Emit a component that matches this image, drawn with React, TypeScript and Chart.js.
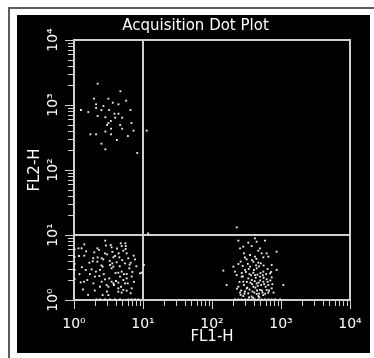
import React, { useEffect, useRef } from 'react';
import { Chart, registerables } from 'chart.js';

Chart.register(...registerables);

const chartTitle = 'Acquisition Dot Plot';
const xAxisTitle = 'FL1-H';
const yAxisTitle = 'FL2-H';
const decadeValues = [1, 10, 100, 1000, 10000];
const decadeLabels = ['10⁰', '10¹', '10²', '10³', '10⁴'];
const significands = [1, 2, 3, 4, 5, 6, 7, 8, 9];
const quadrantX = 10;
const quadrantY = 10;

// [FL1-H, FL2-H]
const upperLeft: [number, number][] = [
  [2.2, 2130], [4.7, 1625], [1.95, 1250], [3.15, 1250], [5.7, 1165], [3.65, 1085], [2.09, 1025],
  [2.67, 965], [4.41, 1025], [2.09, 900], [2.5, 837], [1.26, 837], [1.61, 780], [3.23, 837],
  [6.6, 837], [3.86, 735], [4.41, 735], [2.2, 678], [2.85, 647], [3.95, 638], [4.99, 638],
  [3.42, 567], [3.15, 528], [6.81, 528], [3.02, 492], [4.67, 492], [4.99, 432], [3.45, 432],
  [7.29, 403], [2.85, 391], [11.3, 403], [1.73, 354], [2.09, 354], [3.45, 354], [6.04, 333],
  [4.18, 290], [2.5, 254], [2.85, 208], [8.25, 183],
];

const lowerLeft: [number, number][] = [
  [1.41, 7.18], [2.84, 8.18], [3.4, 7.02], [3.51, 6.46], [4.75, 7.45], [5.55, 7.45], [5.61, 6.77], [4.91, 6.77],
  [1.16, 6.24], [1.29, 6.24], [1.97, 5.41], [2.18, 6.24], [2.81, 5.22], [3.01, 5.04], [4.44, 5.22], [5.19, 5.74], [5.8, 5.22],
  [1.41, 4.81], [1.18, 4.75], [2.2, 4.53], [2.52, 4.38], [2.66, 4.22], [3.72, 4.53], [3.93, 4.75], [4.54, 4.53],
  [6.13, 4.38], [7.33, 4.81], [7.66, 4.22],
  [1.67, 3.75], [1.87, 3.94], [2.18, 3.89], [3.33, 3.45], [3.59, 3.66], [4.15, 3.8], [5.48, 3.66], [6.62, 3.75], [10.3, 3.45],
  [1.48, 2.9], [1.8, 2.96], [2.08, 2.73], [2.38, 2.9], [2.6, 3.26], [3.51, 3.07], [3.72, 3.26], [4.39, 2.63],
  [4.91, 2.73], [5.8, 2.51], [6.34, 3.07], [9.05, 2.57], [9.57, 2.63],
  [1.56, 2.03], [2.01, 2.29], [2.33, 2.34], [2.81, 2.08], [3.25, 2.15], [3.51, 1.91], [4.06, 1.96], [4.64, 2.29],
  [5.19, 2.03], [5.8, 2.15], [6.85, 2.29],
  [1.25, 1.87], [1.4, 1.91], [1.91, 1.8], [2.52, 1.91], [2.97, 1.7], [3.72, 1.8], [4.39, 1.85], [5.48, 1.8],
  [2.38, 1.6], [3.15, 1.6], [4.39, 1.51], [5.19, 1.43], [5.8, 1.39], [6.85, 1.51],
  [2.6, 1.19], [3.15, 1.19], [4.39, 1.34], [4.91, 1.3], [6.62, 1.27],
  [1.3, 3.2], [1.5, 5.6], [1.7, 2.5], [1.9, 4.4], [2.0, 1.4], [2.3, 5.9], [2.5, 3.4], [2.7, 2.5],
  [2.9, 6.9], [3.0, 1.35], [3.3, 4.0], [3.6, 5.5], [3.8, 1.7], [4.0, 2.6], [4.2, 6.2], [4.6, 3.3],
  [4.8, 1.6], [5.0, 4.1], [5.3, 2.5], [5.6, 6.1], [6.0, 1.8], [6.4, 3.5], [7.0, 2.7], [7.4, 1.9],
  [8.0, 3.3], [1.2, 2.5], [1.35, 1.45], [1.6, 1.2],
  [2.13, 1.02], [2.38, 1.02], [2.81, 1.02], [3.33, 1.02], [3.93, 1.02], [4.64, 1.02], [6.13, 1.02],
  [6.85, 1.02], [7.66, 1.02], [8.55, 1.02],
  [1.02, 6.0], [1.02, 4.6], [1.02, 3.6], [1.02, 2.9], [1.02, 2.1],
  [11.9, 10.6],
];

const lowerRight: [number, number][] = [
  [228, 13.1], [241, 8.18], [336, 7.62], [420, 8.89], [444, 7.89], [586, 8.18], [284, 6.62], [255, 6.24],
  [376, 6.77], [496, 6.24], [469, 5.74], [525, 5.22], [620, 5.22], [865, 5.54], [290, 5.22], [356, 4.92],
  [420, 4.64], [555, 4.53], [655, 4.64], [318, 4.22], [397, 3.89], [469, 3.75], [510, 3.66], [733, 3.45],
  [241, 3.58], [204, 3.26], [278, 3.34], [356, 3.26], [444, 3.07], [865, 2.9], [146, 2.83], [215, 2.73],
  [301, 2.9], [397, 2.63], [555, 2.73], [693, 2.57], [228, 2.42], [269, 2.29], [336, 2.15], [420, 2.42],
  [496, 2.29], [620, 2.08], [733, 2.23], [284, 1.91], [376, 2.03], [444, 1.8], [555, 1.91], [655, 1.7],
  [163, 1.7], [1081, 1.7], [241, 1.6], [318, 1.51], [397, 1.6], [496, 1.43], [620, 1.43], [733, 1.51],
  [255, 1.3], [336, 1.27], [444, 1.24], [555, 1.19], [655, 1.3], [284, 1.15], [376, 1.13], [469, 1.15],
  [260, 1.2], [300, 1.35], [350, 1.45], [410, 1.3], [480, 1.25], [530, 1.4], [290, 1.7], [460, 1.65],
  [380, 1.75], [320, 1.9], [560, 2.2], [270, 2.6], [350, 2.5], [430, 2.2], [500, 2.0], [600, 1.6],
  [230, 1.5], [250, 1.9], [265, 1.4], [280, 2.3], [295, 1.25], [310, 2.7], [325, 1.55], [340, 3.0],
  [345, 1.1], [360, 1.85], [370, 2.4], [385, 1.35], [395, 1.08], [405, 2.9], [415, 1.95], [425, 1.55],
  [435, 3.4], [450, 1.4], [455, 2.45], [475, 1.85], [485, 1.1], [505, 2.6], [515, 1.7], [540, 1.3],
  [545, 2.4], [570, 1.75], [590, 1.25], [610, 2.5], [640, 1.9], [670, 1.4], [700, 2.0], [750, 1.75],
  [780, 1.3], [260, 3.9], [300, 4.5], [330, 3.6], [380, 4.1], [440, 4.3], [480, 3.3], [560, 3.4],
  [640, 3.0], [720, 2.7],
  [215, 1.02], [241, 1.02], [269, 1.02], [301, 1.02], [336, 1.02], [376, 1.02], [420, 1.02], [469, 1.02],
  [525, 1.02], [586, 1.02], [655, 1.02], [733, 1.02], [818, 1.02], [968, 1.02],
];

const FONT = "'DejaVu Sans', sans-serif";
const LINE = '#d0d0d0';
const DOT = '#f0f0f0';

const tickValues: number[] = [];
decadeValues.slice(0, -1).forEach((d) => significands.forEach((s) => tickValues.push(s * d)));
tickValues.push(decadeValues[decadeValues.length - 1]);

const labelFor = (v: number) => {
  const i = decadeValues.findIndex((d) => Math.abs(Math.log10(v) - Math.log10(d)) < 1e-6);
  return i >= 0 ? decadeLabels[i] : '';
};

const setTicks = (scale: any) => {
  scale.ticks = tickValues.map((v) => ({ value: v, major: labelFor(v) !== '' }));
};

const framePlugin = {
  id: 'frame',
  beforeDraw(chart: any) {
    const { ctx, width, height } = chart;
    ctx.save();
    ctx.fillStyle = '#ffffff';
    ctx.fillRect(0, 0, width, height);
    ctx.fillStyle = '#5c5c5c';
    ctx.fillRect(8, 7, 2, height - 7);
    ctx.fillRect(8, 7, width - 8, 2);
    ctx.fillStyle = '#000000';
    ctx.fillRect(17, 15, 353, 338);
    ctx.restore();
  },
  beforeDatasetsDraw(chart: any) {
    const { ctx, chartArea: a, scales } = chart;
    const x = scales.x;
    const y = scales.y;
    ctx.save();
    ctx.fillStyle = LINE;
    const L = Math.round(a.left) - 1;
    const R = Math.round(a.right) - 1;
    const T = Math.round(a.top) - 1;
    const B = Math.round(a.bottom) - 1;
    ctx.fillRect(L, T, R - L + 2, 2);
    ctx.fillRect(L, B, R - L + 2, 2);
    ctx.fillRect(L, T, 2, B - T + 2);
    ctx.fillRect(R, T, 2, B - T + 2);
    const qx = Math.round(x.getPixelForValue(quadrantX));
    const qy = Math.round(y.getPixelForValue(quadrantY));
    ctx.fillRect(qx - 1, T, 2, B - T + 2);
    ctx.fillRect(L, qy - 1, R - L + 2, 2);
    tickValues.forEach((v) => {
      const len = labelFor(v) !== '' ? 8 : 5;
      const py = Math.round(y.getPixelForValue(v));
      ctx.fillRect(L - len, py, len, 1);
      const px = Math.round(x.getPixelForValue(v));
      ctx.fillRect(px, B + 2, 1, len);
    });
    ctx.restore();
  },
};

const hiddenGrid = {
  display: true,
  drawOnChartArea: false,
  drawTicks: true,
  tickLength: 5,
  color: 'rgba(0,0,0,0)',
  lineWidth: 1,
};

const makeDataset = (pts: [number, number][]) => ({
  data: pts.map(([x, y]) => ({ x, y })),
  xAxisID: 'x',
  yAxisID: 'y',
  pointStyle: 'rect',
  pointRadius: 1.3,
  pointHoverRadius: 1.3,
  pointBorderWidth: 0,
  pointBackgroundColor: DOT,
  borderColor: DOT,
  showLine: false,
});

export default function App() {
  const ref = useRef<HTMLCanvasElement | null>(null);
  useEffect(() => {
    if (!ref.current) return;
    const chart = new Chart(ref.current, {
      type: 'scatter',
      data: {
        datasets: [makeDataset(upperLeft), makeDataset(lowerLeft), makeDataset(lowerRight)],
      },
      plugins: [framePlugin],
      options: {
        animation: false,
        responsive: false,
        devicePixelRatio: 1,
        events: [],
        layout: { padding: { left: 17, top: 15, right: 0, bottom: 0 } },
        plugins: {
          legend: { display: false },
          tooltip: { enabled: false },
          title: {
            display: true,
            text: chartTitle,
            color: '#ffffff',
            font: { family: FONT, size: 15, weight: 'normal' },
            padding: { top: 2, bottom: 5 },
          },
        },
        scales: {
          x: {
            type: 'logarithmic',
            position: 'bottom',
            min: 1,
            max: 10000,
            afterBuildTicks: setTicks,
            afterFit: (s: any) => { s.height = 58; },
            grid: hiddenGrid,
            border: { display: false },
            ticks: {
              autoSkip: false,
              minRotation: 0,
              maxRotation: 0,
              color: '#ffffff',
              padding: 11,
              font: { family: FONT, size: 14 },
              callback: (v: any) => labelFor(Number(v)),
            },
            title: {
              display: true,
              text: xAxisTitle,
              color: '#ffffff',
              font: { family: FONT, size: 15 },
              padding: { top: 0, bottom: 12 },
            },
          },
          y: {
            type: 'logarithmic',
            position: 'left',
            min: 1,
            max: 10000,
            afterBuildTicks: setTicks,
            afterFit: (s: any) => { s.width = 57; },
            grid: hiddenGrid,
            border: { display: false },
            ticks: {
              autoSkip: false,
              minRotation: 90,
              maxRotation: 90,
              crossAlign: 'center',
              color: '#ffffff',
              padding: 4,
              font: { family: FONT, size: 14 },
              callback: (v: any) => labelFor(Number(v)),
            },
            title: {
              display: true,
              text: yAxisTitle,
              color: '#ffffff',
              font: { family: FONT, size: 15 },
              padding: { top: 9, bottom: 0 },
            },
          },
          yR: {
            type: 'logarithmic',
            position: 'right',
            min: 1,
            max: 10000,
            afterFit: (s: any) => { s.width = 24; },
            grid: { display: false },
            border: { display: false },
            ticks: { display: false },
          },
        },
      } as any,
    });
    return () => chart.destroy();
  }, []);
  return (
    <canvas
      ref={ref}
      width={374}
      height={358}
      style={{ position: 'fixed', left: 0, top: 0, display: 'block' }}
    />
  );
}
